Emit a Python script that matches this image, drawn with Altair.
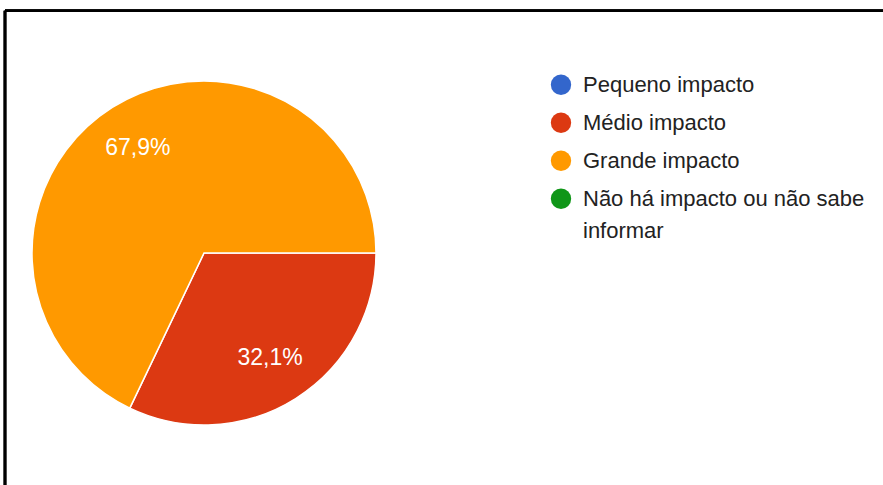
import math
import altair as alt
import pandas as pd

categories = ["Pequeno impacto", "Médio impacto", "Grande impacto", "Não há impacto ou não sabe informar"]
values = [0.0, 32.1, 67.9, 0.0]
labels = ["0,0%", "32,1%", "67,9%", "0,0%"]
colors = ["#3366CC", "#DC3912", "#FF9900", "#109618"]

df = pd.DataFrame({
    "categoria": categories,
    "valor": values,
    "rotulo": labels,
    "ordem": list(range(len(categories))),
})

FONT = "Liberation Sans"
CX, CY = 199, 242.3
R = 172

theta = alt.Theta("valor:Q", stack=True,
                  scale=alt.Scale(range=[math.pi / 2, math.pi / 2 + 2 * math.pi]))
color = alt.Color(
    "categoria:N",
    scale=alt.Scale(domain=categories, range=colors),
    sort=categories,
    legend=alt.Legend(
        title=None,
        orient="none",
        legendX=545,
        legendY=63,
        symbolType="circle",
        symbolSize=415,
        symbolStrokeWidth=0,
        symbolOpacity=1,
        labelFont=FONT,
        labelFontSize=22,
        labelColor="#222222",
        labelOffset=11,
        labelLimit=400,
        rowPadding=16,
        labelExpr="datum.label == 'Não há impacto ou não sabe informar' ? ['Não há impacto ou não sabe', 'informar'] : datum.label",
    ),
)

base = alt.Chart(df).transform_filter("datum.valor > 0")

arcs = base.mark_arc(outerRadius=R, stroke="white", strokeWidth=1.5).encode(
    theta=theta,
    color=color,
    order=alt.Order("ordem:Q"),
    x=alt.value(CX),
    y=alt.value(CY),
)

texts = base.mark_text(radius=124, font=FONT, fontSize=23, color="white").encode(
    theta=theta,
    text="rotulo:N",
    order=alt.Order("ordem:Q"),
    x=alt.value(CX),
    y=alt.value(CY),
)

top_rule = alt.Chart(df).mark_rule(color="black", strokeWidth=2.5).encode(
    x=alt.value(0), x2=alt.value(900), y=alt.value(0)
)
left_rule = alt.Chart(df).mark_rule(color="black", strokeWidth=2.5).encode(
    x=alt.value(0), y=alt.value(0), y2=alt.value(500)
)

chart = alt.layer(arcs, texts, top_rule, left_rule).properties(
    width=878,
    height=474.3,
    padding={"left": 5, "top": 10.7, "right": 0, "bottom": 0},
    autosize=alt.AutoSizeParams(type="none"),
    background="white",
).configure_view(strokeWidth=0).configure(style={"guide-label": {"lineHeight": 32}})

chart.save("out.html", embed_options={"renderer": "svg", "actions": False})
